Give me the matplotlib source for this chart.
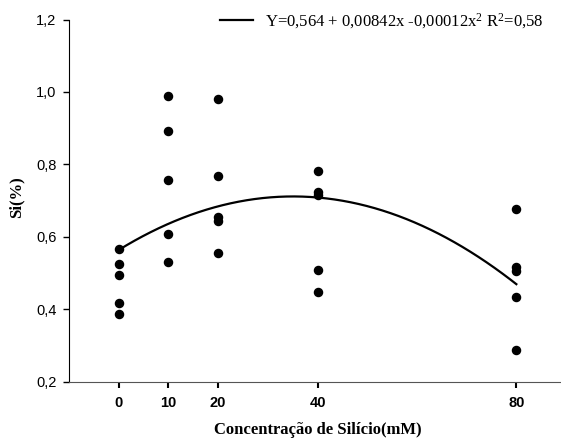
import matplotlib.pyplot as plt
import numpy as np

# Teor de Si nas folhas por dose de silicio
doses = [0, 10, 20, 40, 80]
si_0 = [0.566, 0.524, 0.494, 0.417, 0.386]
si_10 = [0.990, 0.891, 0.756, 0.607, 0.531]
si_20 = [0.982, 0.769, 0.655, 0.645, 0.555]
si_40 = [0.783, 0.723, 0.717, 0.509, 0.447]
si_80 = [0.677, 0.517, 0.506, 0.433, 0.288]

# coeficientes da regressao quadratica
b0, b1, b2 = 0.564, 0.00842, -0.00012
r2 = "0,58"

plt.rcParams['mathtext.fontset'] = 'custom'
plt.rcParams['mathtext.rm'] = 'Liberation Serif'
plt.rcParams['mathtext.it'] = 'Liberation Serif'

fig = plt.figure(figsize=(5.61, 4.44), dpi=100)
ax = fig.add_axes([0.123, 0.140, 0.886, 0.816])

for d, vals in zip(doses, [si_0, si_10, si_20, si_40, si_80]):
    ax.scatter([d] * len(vals), vals, s=34, color='black', zorder=3)

xs = np.linspace(0, 80, 200)
ax.plot(xs, b0 + b1 * xs + b2 * xs ** 2, color='black', lw=1.6,
        label=r"Y=0,564 + 0,00842x -0,00012x$^2$ R$^2$=" + r2)

ax.set_xlim(-10, 90)
ax.set_ylim(0.2, 1.2)
ax.set_xticks(doses)
ax.set_yticks([0.2, 0.4, 0.6, 0.8, 1.0, 1.2])
ax.set_yticklabels(['0,2', '0,4', '0,6', '0,8', '1,0', '1,2'],
                   family='Liberation Sans', fontsize=10.5)
ax.set_xticklabels([str(d) for d in doses], family='Liberation Sans',
                   fontsize=10.5, fontweight='bold')

ax.spines['top'].set_visible(False)
ax.spines['right'].set_visible(False)
ax.spines['bottom'].set_color('#555555')
ax.tick_params(axis='y', length=4, width=1, pad=5)
ax.tick_params(axis='x', length=4, width=1.5, pad=6)

ax.set_xlabel('Concentração de Silício(mM)', family='Liberation Serif',
              fontsize=12, fontweight='bold')
ax.set_ylabel('Si(%)', family='Liberation Serif', fontsize=12,
              fontweight='bold')
ax.xaxis.set_label_coords(0.5, -0.11)
ax.yaxis.set_label_coords(-0.09, 0.51)

ax.legend(loc='center left', bbox_to_anchor=(220 / 561, 1 - 21 / 444),
          bbox_transform=fig.transFigure, frameon=False,
          borderpad=0, borderaxespad=0,
          prop={'family': 'Liberation Serif', 'size': 12},
          handlelength=2.0, handletextpad=0.7)

fig.savefig('out.png', dpi=100)
